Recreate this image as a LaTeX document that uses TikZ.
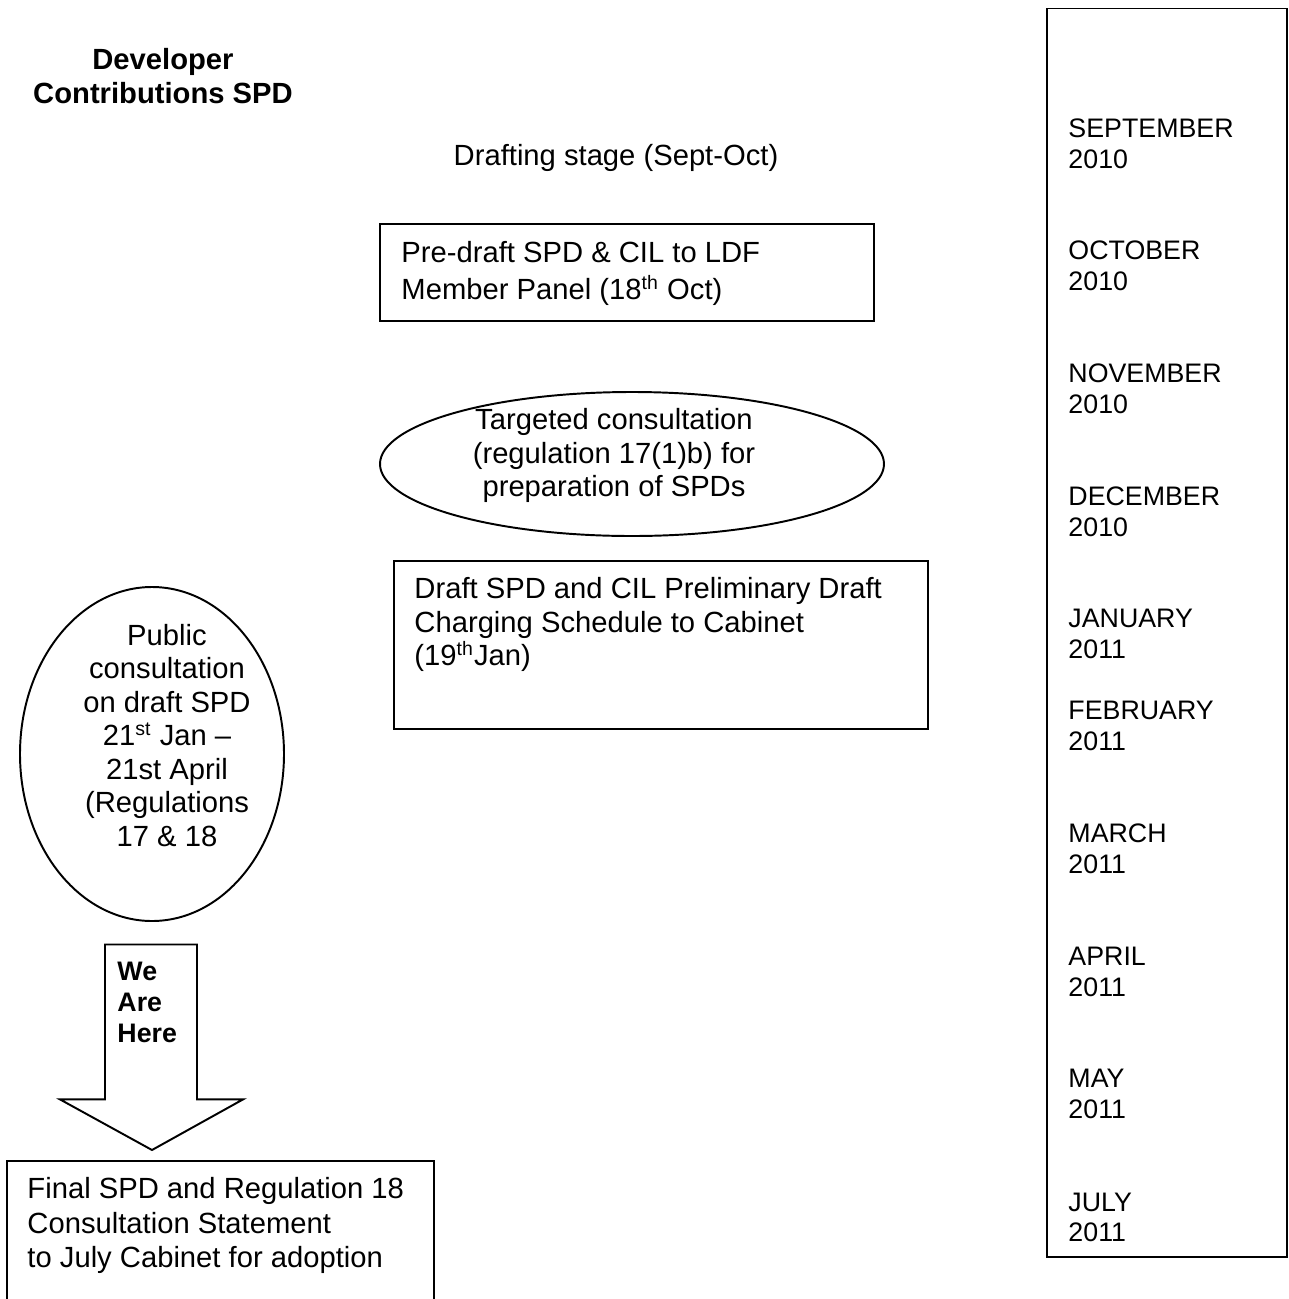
\documentclass[tikz,border=0pt]{standalone}
\usepackage{fontspec}
\setmainfont{Liberation Sans}
\usetikzlibrary{shapes.geometric,fit}
\begin{document}
\begin{tikzpicture}[x=0.411pt,y=-0.411pt,
  txt/.style={inner sep=0pt, anchor=north west, align=left, font=\fontsize{12}{13.8}\selectfont},
  ctxt/.style={inner sep=0pt, anchor=north, align=center, font=\fontsize{12}{13.8}\selectfont},
  mon/.style={inner sep=0pt, anchor=north west, align=left, font=\fontsize{11}{12.74}\selectfont},
  boxline/.style={draw, line width=0.8pt, line join=miter},
  rbox/.style={boxline, rectangle, inner sep=0pt},
  ebox/.style={boxline, ellipse, inner sep=0pt},
]
\useasboundingbox (0,0) rectangle (1289,1299);

% title
\node[inner sep=0pt, anchor=north, align=center, font=\bfseries\fontsize{12}{14}\selectfont] (title) at (163,45) {\strut Developer\\Contributions SPD};

% drafting stage
\node[inner sep=0pt, anchor=base, font=\fontsize{12}{13.8}\selectfont] (drafting) at (616,165) {Drafting stage (Sept-Oct)};

% pre-draft box
\node[rbox, fit={(380,224) (874,321)}] (predraft) {};
\node[txt] (predrafttext) at (401,238.5) {\strut Pre-draft SPD \& CIL to LDF\\Member Panel (18\textsuperscript{th} Oct)};

% targeted consultation ellipse
\node[ebox, minimum width=504*0.411pt, minimum height=144*0.411pt] (targeted) at (632,464) {};
\node[ctxt] (targetedtext) at (614,405.5) {\strut Targeted consultation\\(regulation 17(1)b) for\\preparation of SPDs};

% draft SPD box
\node[rbox, fit={(394,561) (928,729)}] (draft) {};
\node[txt] (drafttext) at (414,574.5) {\strut Draft SPD and CIL Preliminary Draft\\Charging Schedule to Cabinet\\(19\textsuperscript{th}Jan)};

% public consultation ellipse
\node[ebox, minimum width=264*0.411pt, minimum height=334*0.411pt] (public) at (152,754) {};
\node[ctxt] (publictext) at (167,621) {\strut Public\\consultation\\on draft SPD\\21\textsuperscript{st} Jan --\\21st April\\(Regulations\\17 \& 18};

% we are here arrow
\draw[boxline] (105,944.5) -- (197,944.5) -- (197,1099.4) -- (243,1099.4) -- (152,1150) -- (60,1099.4) -- (105,1099.4) -- cycle;
\node[inner sep=0pt, anchor=north west, align=left, font=\bfseries\fontsize{11}{12.74}\selectfont] (here) at (117,958.3) {\strut We\\Are\\Here};

% final box (continues below the page)
\node[rbox, fit={(7,1161) (434,1340)}] (final) {};
\node[txt, font=\fontsize{12}{14.2}\selectfont] (finaltext) at (27,1174) {\strut Final SPD and Regulation 18\\Consultation Statement\\to July Cabinet for adoption};

% month column
\node[rbox, fit={(1047,8.5) (1287,1257)}] (months) {};
\foreach \b/\m/\yr in {136.8/SEPTEMBER/2010, 259.4/OCTOBER/2010, 382/NOVEMBER/2010, 504.6/DECEMBER/2010, 627.2/JANUARY/2011, 719.2/FEBRUARY/2011, 841.8/MARCH/2011, 965.3/APRIL/2011, 1087/MAY/2011, 1210.5/JULY/2011}{
  \node[mon] (m\m) at (1068,\b-21.7) {\strut\m\\\yr};
}
\end{tikzpicture}
\end{document}
